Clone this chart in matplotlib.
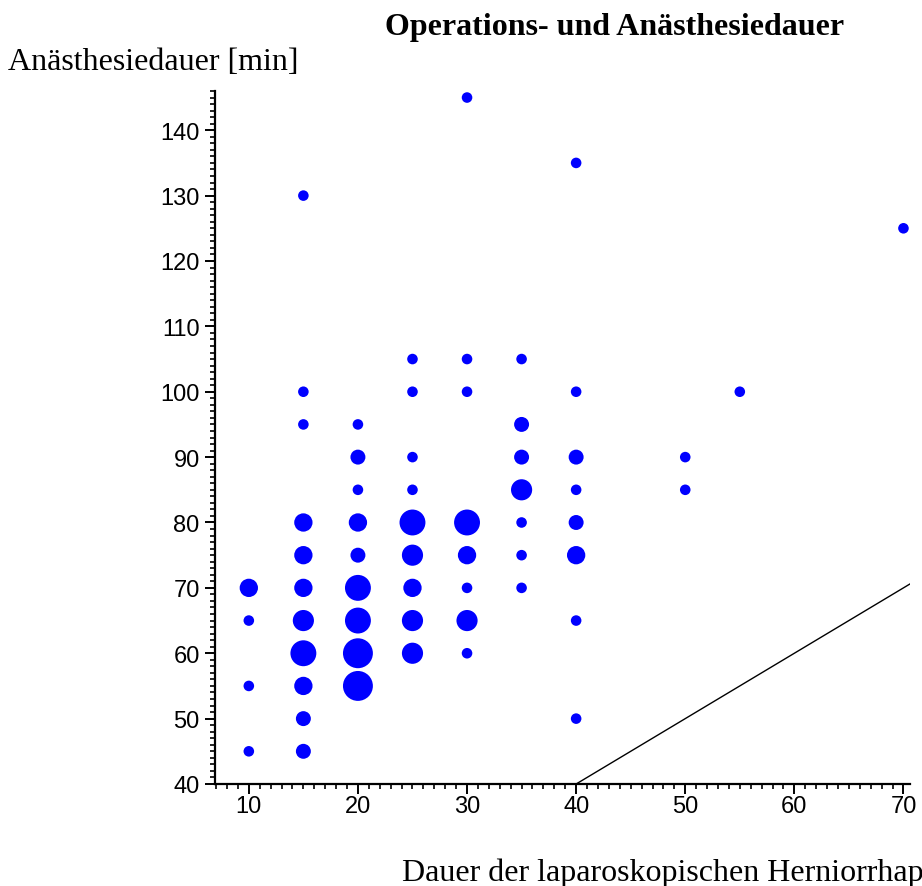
import numpy as np
import matplotlib
matplotlib.use("Agg")
import matplotlib.pyplot as plt
from matplotlib.ticker import MultipleLocator

plt.rcParams["font.family"] = ["Liberation Sans", "DejaVu Sans"]

# Operationsdauer [min], Anaesthesiedauer [min], Anzahl Patienten
op_dauer = [10, 10, 10, 10,
            15, 15, 15, 15, 15, 15, 15, 15, 15, 15, 15,
            20, 20, 20, 20, 20, 20, 20, 20, 20,
            25, 25, 25, 25, 25, 25, 25, 25, 25,
            30, 30, 30, 30, 30, 30, 30, 30,
            35, 35, 35, 35, 35, 35, 35,
            40, 40, 40, 40, 40, 40, 40, 40,
            50, 50, 55, 70]
an_dauer = [70, 65, 55, 45,
            130, 100, 95, 80, 75, 70, 65, 60, 55, 50, 45,
            95, 90, 85, 80, 75, 70, 65, 60, 55,
            105, 100, 90, 85, 80, 75, 70, 65, 60,
            145, 105, 100, 80, 75, 70, 65, 60,
            105, 95, 90, 85, 80, 75, 70,
            135, 100, 90, 85, 80, 75, 65, 50,
            90, 85, 100, 125]
anzahl = [3, 1, 1, 1,
          1, 1, 1, 3, 3, 3, 4, 6, 3, 2, 2,
          1, 2, 1, 3, 2, 6, 6, 8, 8,
          1, 1, 1, 1, 6, 4, 3, 4, 4,
          1, 1, 1, 6, 3, 1, 4, 1,
          1, 2, 2, 4, 1, 1, 1,
          1, 1, 2, 1, 2, 3, 1, 1,
          1, 1, 1, 1]

ref_line = [40, 75]

fig = plt.figure(figsize=(9.22, 8.87), dpi=100)
ax = fig.add_axes([215/922, 102/887, 695/922, 693/887])

ax.scatter(op_dauer, an_dauer, s=np.array(anzahl)*58, color="#0000ff",
           edgecolors="none", zorder=3)
ax.plot(ref_line, ref_line, color="black", lw=1.0)

ax.set_xlim(6.9, 70.6)
ax.set_ylim(40, 146)
ax.xaxis.set_major_locator(MultipleLocator(10))
ax.xaxis.set_minor_locator(MultipleLocator(1))
ax.yaxis.set_major_locator(MultipleLocator(10))
ax.yaxis.set_minor_locator(MultipleLocator(1))

for s in ["top", "right"]:
    ax.spines[s].set_visible(False)
for s in ["left", "bottom"]:
    ax.spines[s].set_linewidth(1.6)

ax.tick_params(which="major", direction="out", length=7, width=1.4, labelsize=17)
ax.tick_params(which="minor", direction="out", length=3.6, width=1.2)
ax.tick_params(axis="x", which="major", pad=1)
ax.tick_params(axis="y", which="major", pad=4)

serif = ["Liberation Serif", "DejaVu Serif"]
fig.text(615/922, 1 - 35/887, "Operations- und Anästhesiedauer", ha="center",
         va="baseline", fontsize=23, fontweight="bold", family=serif)
fig.text(8/922, 1 - 70/887, "Anästhesiedauer [min]", ha="left",
         va="baseline", fontsize=23, family=serif)
# label runs past the right edge, as in the original chart
fig.text(402/922, 1 - 881/887, "Dauer der laparoskopischen Herniorrhaphie [min]",
         ha="left", va="baseline", fontsize=23, family=serif)

fig.savefig("out.png", dpi=100)
